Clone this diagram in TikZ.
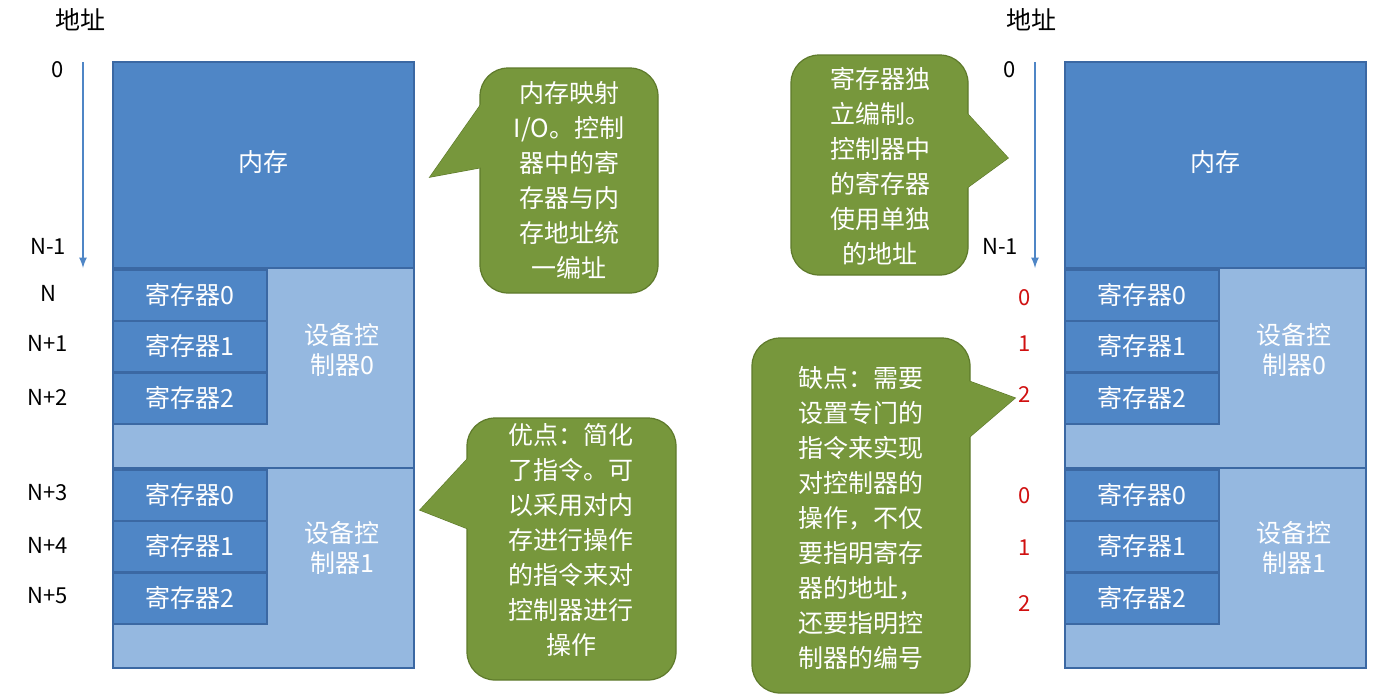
\documentclass[tikz,border=0pt]{standalone}
\usepackage{fontspec}
\setmainfont{Noto Sans CJK SC}
\begin{document}
\begin{tikzpicture}[x=0.5pt,y=-0.5pt,
  mem/.style={fill=memblue,draw=memedge,line width=0.6pt},
  dev/.style={fill=devblue,draw=memedge,line width=0.6pt},
  reg/.style={fill=memblue,draw=memedge,line width=0.6pt},
  wt/.style={text=white,font=\fontsize{12.5}{15}\selectfont,align=center},
  lbl/.style={font=\fontsize{11}{13}\selectfont},
  rd/.style={font=\fontsize{11}{13}\selectfont,text=redn},
  call/.style={fill=cgreen,draw=cedge,line width=0.6pt},
  callfill/.style={fill=cgreen},
  ct/.style={text=white,font=\fontsize{12.5}{17.5}\selectfont,align=center},
  ax/.style={draw=memblue,line width=0.8pt,-latex}]
\definecolor{memblue}{HTML}{4F86C6}
\definecolor{devblue}{HTML}{95B8E0}
\definecolor{memedge}{HTML}{3B68A3}
\definecolor{cgreen}{HTML}{77973C}
\definecolor{cedge}{HTML}{5E7A2B}
\definecolor{redn}{HTML}{D01010}
\useasboundingbox (0,0) rectangle (1379,697);
\foreach \ox/\nm in {113/L,1065/R}{
  \fill[mem] (\ox,62) rectangle +(301,206);
  \node[wt] (mem\nm) at (\ox+150,162) {内存};
  \fill[dev] (\ox,268) rectangle +(301,200);
  \fill[dev] (\ox,468) rectangle +(301,200);
  \foreach \y/\k in {270/0,321/1,373/2}{
    \draw[reg] (\ox,\y) rectangle +(154,51);
    \node[wt] at (\ox+77,\y+25) {寄存器\k};}
  \foreach \y/\k in {470/0,521/1,573/2}{
    \draw[reg] (\ox,\y) rectangle +(154,51);
    \node[wt] at (\ox+77,\y+25) {寄存器\k};}
  \node[wt] (d0\nm) at (\ox+229,350) {设备控\\制器0};
  \node[wt] (d1\nm) at (\ox+229,548) {设备控\\制器1};
}
\node[font=\fontsize{12.5}{14}\selectfont] (aL) at (80,20) {地址};
\node[font=\fontsize{12.5}{14}\selectfont] (aR) at (1031,20) {地址};
\coordinate (s1) at (83,62); \coordinate (e1) at (83,268);
\coordinate (s2) at (1035,62); \coordinate (e2) at (1035,268);
\draw[ax] (s1) -- (e1);
\draw[ax] (s2) -- (e2);
\node[lbl] (z1) at (58,70) {0};
\node[lbl] (z2) at (1010,70) {0};
\node[lbl] (n1) at (48,246) {N-1};
\node[lbl] (n2) at (1000,246) {N-1};
\foreach \y/\t in {293/N,343/N+1,397/N+2,493/N+3,545/N+4,596/N+5}
  \node[lbl] at (48,\y) {\t};
\foreach \y/\t in {298/0,344/1,395/2,496/0,548/1,603/2}
  \node[rd] at (1025,\y) {\t};
% callouts: triangle, rounded box, triangle fill over the seam
\newcommand{\callout}[7]{% x1,y1,x2,y2, baseA, tip, baseB
  \draw[call] (#5) -- (#6) -- (#7);
  \draw[call,rounded corners=14] (#1,#2) rectangle (#3,#4);
  \fill[callfill] (#5) -- (#6) -- (#7) -- cycle;}
\callout{480}{68}{658}{293}{484,100}{430,177}{484,167}
\node[ct] (c1) at (569,180) {内存映射\\I/O。控制\\器中的寄\\存器与内\\存地址统\\一编址};
\callout{467}{418}{676}{680}{471,455}{420,510}{471,530}
\node[ct] (c2) at (571,540) {优点：简化\\了指令。可\\以采用对内\\存进行操作\\的指令来对\\控制器进行\\操作};
\callout{791}{55}{968}{275}{964,110}{1008,158}{964,190}
\node[ct] (c3) at (880,166) {寄存器独\\立编制。\\控制器中\\的寄存器\\使用单独\\的地址};
\callout{752}{338}{970}{693}{966,380}{1015,398}{966,440}
\node[ct] (c4) at (861,518) {缺点：需要\\设置专门的\\指令来实现\\对控制器的\\操作，不仅\\要指明寄存\\器的地址，\\还要指明控\\制器的编号};
\end{tikzpicture}
\end{document}
